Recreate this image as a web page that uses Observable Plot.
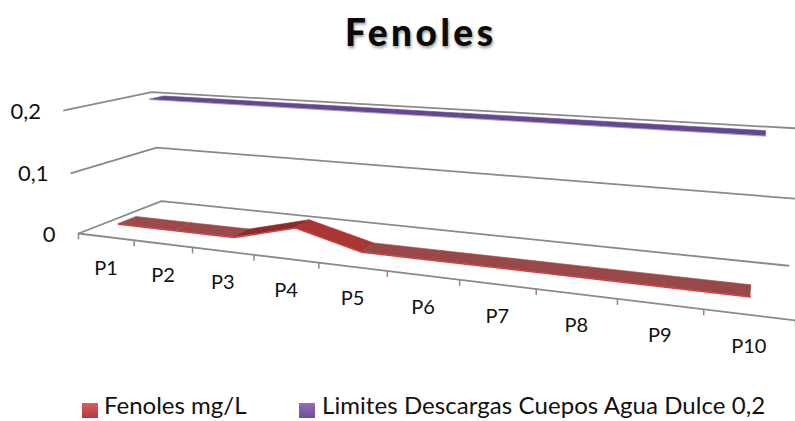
<!DOCTYPE html>
<html><head><meta charset="utf-8">
<script src="https://cdn.jsdelivr.net/npm/d3@7"></script>
<script src="https://cdn.jsdelivr.net/npm/@observablehq/plot@0.6"></script>
<style>
html,body{margin:0;padding:0;background:#fff;overflow:hidden;width:795px;height:421px}
#title{position:relative;height:62px}
#title span{position:absolute;left:345px;top:12px;font:900 37px/40px Lato,sans-serif;letter-spacing:3.5px;color:#0a0a0a;text-shadow:1px 2px 3px rgba(0,0,0,.4);white-space:nowrap}
#legend{position:relative;height:41px;font:24px/26px Lato,sans-serif;color:#111;white-space:nowrap}
#legend span{position:absolute}
.sw{width:16px;height:15px;top:23px}
.tx{top:12px}
svg{display:block}
</style></head><body>
<div id="title"><span>Fenoles</span></div>
<div id="chart"></div>
<div id="legend">
<span class="sw" style="left:82px;background:linear-gradient(#d8605c,#b03a36)"></span><span class="tx" style="left:104px">Fenoles mg/L</span>
<span class="sw" style="left:299px;background:linear-gradient(#8f6db5,#6f4f9a)"></span><span class="tx" style="left:322px;letter-spacing:.07px">Limites Descargas Cuepos Agua Dulce 0,2</span>
</div>
<script>
const categories = ["P1","P2","P3","P4","P5","P6","P7","P8","P9","P10"];
const fenoles = [0.012,0.012,0.012,0.038,0.012,0.012,0.012,0.012,0.012,0.012];
const limites = [0.2,0.2,0.2,0.2,0.2,0.2,0.2,0.2,0.2,0.2];
const yTicks = [0,0.1,0.2];
const yTickLabels = ["0","0,1","0,2"];
const yMax = 0.2;
const redDepth = [0.15,0.36];
const purpleDepth = [0.65,0.83];
const redFills = ["#9a4a4a","#9a4a4a","#8a2c2c","#a83632","#974848","#974848","#974848","#974848","#974848"];

// 3D camera of the chart: s along categories (0..1), d into depth (0..1), v value
function project(s,d,v){
  const t=v/yMax;
  const w=1-0.2434*s+0.1351*d-0.038*t;
  return [(523.5*s+104.75*d-16.9*t+78)/w,(9.1*s-5.2*d-127.2*t+233)/w];
}
const n=categories.length;
const sOf=i=>(i+0.5)/n;

const grid=[];
yTicks.forEach(v=>{
  [[0,0],[0,1],[1,1]].forEach(([s,d])=>{
    if(v===0&&s===1) { const p=project(0.995,1,v); grid.push({k:v,x:p[0],y:p[1]}); return; }
    const p=project(s,d,v); grid.push({k:v,x:p[0],y:p[1]});
  });
});
const front=[0,1].map(s=>{const p=project(s,0,0);return {x:p[0],y:p[1]};});
const ticks=d3.range(n+1).map(i=>{const p=project(i/n,0,0);return {x:p[0],y:p[1]};});
const catLabels=categories.map((c,i)=>{const p=project(sOf(i),0,0);return {c,x:p[0],y:p[1]};});
const valLabels=yTicks.map((v,i)=>{const p=project(0,0,v);return {c:yTickLabels[i],x:p[0],y:p[1]};});

function ribbon(vals,depth,fills){
  const rows=[];
  for(let i=0;i<vals.length-1;i++){
    [i,i+1].forEach(j=>{
      const a=project(sOf(j),depth[0],vals[j]),b=project(sOf(j),depth[1],vals[j]);
      rows.push({z:i,fill:fills?fills[i]:"#64488e",x1:a[0],y1:a[1],x2:b[0],y2:b[1]});
    });
  }
  return rows;
}
const edge=(vals,d)=>vals.map((v,i)=>{const p=project(sOf(i),d,v);return {x:p[0],y:p[1]};});

const top0=62;
const labelFont="Lato,sans-serif";
const chart=Plot.plot({
  width:795,height:318,
  marginLeft:0,marginRight:0,marginTop:0,marginBottom:0,
  x:{domain:[0,795],range:[0,795],axis:null},
  y:{domain:[top0,top0+318],range:[0,318],axis:null},
  marks:[
    Plot.line(grid,{x:"x",y:"y",z:"k",stroke:"#8a8a8a",strokeWidth:1.8,curve:"linear"}),
    Plot.line(front,{x:"x",y:"y",stroke:"#8a8a8a",strokeWidth:1.8}),
    Plot.link(ticks,{x1:"x",y1:"y",x2:"x",y2:d=>d.y+6,stroke:"#8a8a8a",strokeWidth:1.5}),
    Plot.area(ribbon(limites,purpleDepth),{x1:"x1",y1:"y1",x2:"x2",y2:"y2",z:"z",fill:"fill",stroke:"fill",strokeWidth:0.6,curve:"linear"}),
    Plot.line(edge(limites,purpleDepth[0]),{x:"x",y:"y",stroke:"#a893d0",strokeWidth:0.8}),
    Plot.area(ribbon(fenoles,redDepth,redFills),{x1:"x1",y1:"y1",x2:"x2",y2:"y2",z:"z",fill:"fill",stroke:"fill",strokeWidth:0.6,curve:"linear"}),
    Plot.line(edge(fenoles,redDepth[0]),{x:"x",y:"y",stroke:"#dc3c3c",strokeWidth:1.4}),
    Plot.text(catLabels,{x:"x",y:"y",text:"c",dy:32,fontSize:20,fontFamily:labelFont,fill:"#111"}),
    Plot.text(valLabels,{x:"x",y:"y",text:"c",dx:-23,dy:1,textAnchor:"end",fontSize:22,fontFamily:labelFont,fill:"#111"})
  ]
});
document.getElementById("chart").append(chart);
</script>
</body></html>
